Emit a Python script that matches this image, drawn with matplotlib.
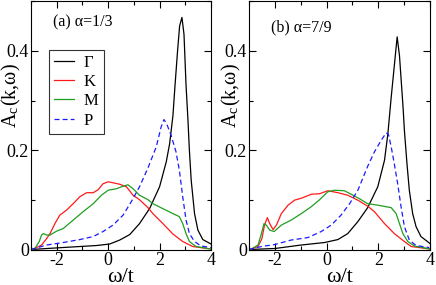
import matplotlib
matplotlib.use("Agg")
import matplotlib.pyplot as plt
from matplotlib.ticker import MultipleLocator, FuncFormatter

plt.rcParams["font.family"] = ["Liberation Serif", "DejaVu Serif"]
plt.rcParams["mathtext.fontset"] = "stix"
plt.rcParams["axes.unicode_minus"] = False

# =========================
# data
# =========================

# panel (a) alpha = 1/3
a_gamma_x = [-3.0, -1.75, -0.45, 0.06, 0.45, 0.84, 1.22, 1.61, 2.0, 2.26, 2.39, 2.52, 2.6,
             2.7, 2.78, 2.87, 2.95, 3.03, 3.1, 3.16, 3.23, 3.36, 3.49, 3.68, 4.0]
a_gamma_y = [0.001, 0.005, 0.009, 0.012, 0.02, 0.031, 0.053, 0.083, 0.127, 0.177, 0.213, 0.27, 0.33,
             0.4, 0.45, 0.467, 0.433, 0.33, 0.265, 0.2, 0.14, 0.073, 0.04, 0.021, 0.012]

a_k_x = [-3.0, -2.85, -2.59, -2.39, -2.26, -2.07, -1.88, -1.62, -1.36, -1.1, -0.84, -0.58, -0.39,
         -0.2, 0.0, 0.19, 0.45, 0.71, 0.97, 1.22, 1.55, 1.74, 2.13, 2.52, 2.9, 3.29, 4.0]
a_k_y = [0.001, 0.003, 0.01, 0.023, 0.033, 0.053, 0.07, 0.08, 0.093, 0.107, 0.115, 0.115, 0.121,
         0.133, 0.137, 0.135, 0.132, 0.127, 0.11, 0.101, 0.085, 0.073, 0.053, 0.032, 0.017, 0.007, 0.002]

a_m_x = [-3.0, -2.85, -2.68, -2.59, -2.52, -2.39, -2.26, -2.0, -1.75, -1.36, -0.97, -0.58, -0.26,
         0.0, 0.32, 0.58, 0.77, 0.97, 1.22, 1.55, 1.74, 2.13, 2.52, 2.77, 2.9, 3.03, 3.16, 3.42, 4.0]
a_m_y = [0.001, 0.003, 0.017, 0.03, 0.033, 0.03, 0.03, 0.038, 0.043, 0.06, 0.077, 0.093, 0.11,
         0.12, 0.123, 0.128, 0.131, 0.123, 0.11, 0.101, 0.093, 0.083, 0.073, 0.067, 0.053, 0.033, 0.017, 0.007, 0.002]

a_p_x = [-3.0, -2.39, -1.75, -1.1, -0.58, -0.2, 0.19, 0.58, 0.9, 1.22, 1.55, 1.87, 2.06, 2.17,
         2.28, 2.45, 2.64, 2.77, 2.9, 3.03, 3.16, 3.36, 3.61, 4.0]
a_p_y = [0.001, 0.01, 0.015, 0.021, 0.027, 0.037, 0.05, 0.07, 0.097, 0.127, 0.165, 0.207, 0.247, 0.262,
         0.253, 0.23, 0.197, 0.16, 0.107, 0.06, 0.033, 0.017, 0.008, 0.005]

# panel (b) alpha = 7/9
b_gamma_x = [-3.0, -2.0, -0.98, -0.08, 0.44, 0.82, 1.21, 1.59, 1.98, 2.24, 2.37, 2.5, 2.62,
             2.73, 2.82, 2.9, 2.96, 3.01, 3.11, 3.2, 3.33, 3.46, 3.65, 4.0]
b_gamma_y = [0.001, 0.003, 0.01, 0.015, 0.021, 0.033, 0.057, 0.085, 0.127, 0.18, 0.233, 0.307, 0.37,
             0.428, 0.39, 0.33, 0.285, 0.24, 0.173, 0.12, 0.073, 0.047, 0.027, 0.013]

b_k_x = [-3.0, -2.91, -2.65, -2.5, -2.4, -2.29, -2.2, -2.07, -1.94, -1.75, -1.49, -1.24, -0.92,
         -0.59, -0.27, 0.05, 0.44, 0.82, 1.21, 1.59, 1.85, 2.24, 2.62, 3.01, 3.27, 4.0]
b_k_y = [0.001, 0.002, 0.007, 0.023, 0.05, 0.065, 0.053, 0.041, 0.05, 0.073, 0.09, 0.1, 0.105,
         0.112, 0.113, 0.119, 0.115, 0.11, 0.1, 0.088, 0.077, 0.053, 0.033, 0.017, 0.007, 0.002]

b_m_x = [-3.0, -2.91, -2.65, -2.52, -2.42, -2.33, -2.2, -2.03, -1.75, -1.37, -0.98, -0.59, -0.27,
         0.05, 0.31, 0.69, 0.95, 1.27, 1.59, 1.98, 2.3, 2.5, 2.69, 2.82, 2.95, 3.14, 3.4, 4.0]
b_m_y = [0.001, 0.002, 0.01, 0.033, 0.053, 0.05, 0.04, 0.037, 0.05, 0.06, 0.073, 0.087, 0.101,
         0.117, 0.12, 0.119, 0.112, 0.103, 0.093, 0.09, 0.087, 0.085, 0.073, 0.053, 0.033, 0.017, 0.008, 0.002]

b_p_x = [-3.0, -2.52, -2.0, -1.37, -0.72, -0.21, 0.18, 0.56, 0.89, 1.21, 1.59, 1.85, 2.11, 2.3,
         2.39, 2.5, 2.62, 2.75, 2.88, 3.01, 3.2, 3.46, 3.97]
b_p_y = [0.001, 0.007, 0.011, 0.02, 0.025, 0.037, 0.05, 0.07, 0.093, 0.12, 0.168, 0.197, 0.22, 0.235,
         0.233, 0.207, 0.173, 0.133, 0.087, 0.047, 0.02, 0.009, 0.005]

labels = ["Γ", "K", "M", "P"]
panel_titles = ["(a) α=1/3", "(b) α=7/9"]

GREEN = "#1f9e1f"
styles = [
    dict(color="black", ls="-"),
    dict(color="#ff1a1a", ls="-"),
    dict(color=GREEN, ls="-"),
    dict(color="#1a1aff", ls=(0, (4, 2.5))),
]

panels = [
    [(a_gamma_x, a_gamma_y), (a_k_x, a_k_y), (a_m_x, a_m_y), (a_p_x, a_p_y)],
    [(b_gamma_x, b_gamma_y), (b_k_x, b_k_y), (b_m_x, b_m_y), (b_p_x, b_p_y)],
]

W, H = 436, 285
fig = plt.figure(figsize=(W / 100, H / 100), dpi=100)
axes = [
    fig.add_axes([31 / W, (H - 250) / H, 180 / W, 249 / H]),
    fig.add_axes([249 / W, (H - 250) / H, 181 / W, 249 / H]),
]

title_pos = [(0.12, 0.915), (0.12, 0.895)]
ylabel_x = [-0.11, -0.095]

for i, ax in enumerate(axes):
    for (x, y), lab, st in zip(panels[i], labels, styles):
        ax.plot(x, y, lw=0.9, label=lab, **st)

    ax.set_xlim(-3, 4)
    ax.set_ylim(0, 0.5)
    ax.xaxis.set_major_locator(MultipleLocator(2))
    ax.xaxis.set_minor_locator(MultipleLocator(1))
    ax.yaxis.set_major_locator(MultipleLocator(0.2))
    ax.yaxis.set_minor_locator(MultipleLocator(0.1))
    ax.yaxis.set_major_formatter(FuncFormatter(lambda v, p: "0" if abs(v) < 1e-9 else f"{v:.1f}"))
    ax.tick_params(which="both", direction="in", top=True, right=True, labelsize=13, pad=1.5)
    ax.tick_params(which="major", length=5, width=0.8)
    ax.tick_params(which="minor", length=3, width=0.8)
    for s in ax.spines.values():
        s.set_linewidth(0.8)

    ax.set_xlabel("ω/t", fontsize=16, va="center")
    ax.xaxis.set_label_coords(0.5, -0.112)
    ax.set_ylabel("A$_\\mathregular{c}$(k,ω)", fontsize=14.5, va="center")
    ax.yaxis.set_label_coords(ylabel_x[i], 0.62)
    ax.text(title_pos[i][0], title_pos[i][1], panel_titles[i], transform=ax.transAxes,
            fontsize=11.5, ha="left", va="center")

leg = axes[0].legend(loc="upper left", bbox_to_anchor=(0.1, 0.805), fontsize=12, frameon=True,
                     fancybox=False, edgecolor="black", handlelength=1.2, handletextpad=0.6,
                     labelspacing=0.2, borderpad=0.3, borderaxespad=0)
leg.get_frame().set_linewidth(0.8)

fig.savefig("out.png", dpi=100)
